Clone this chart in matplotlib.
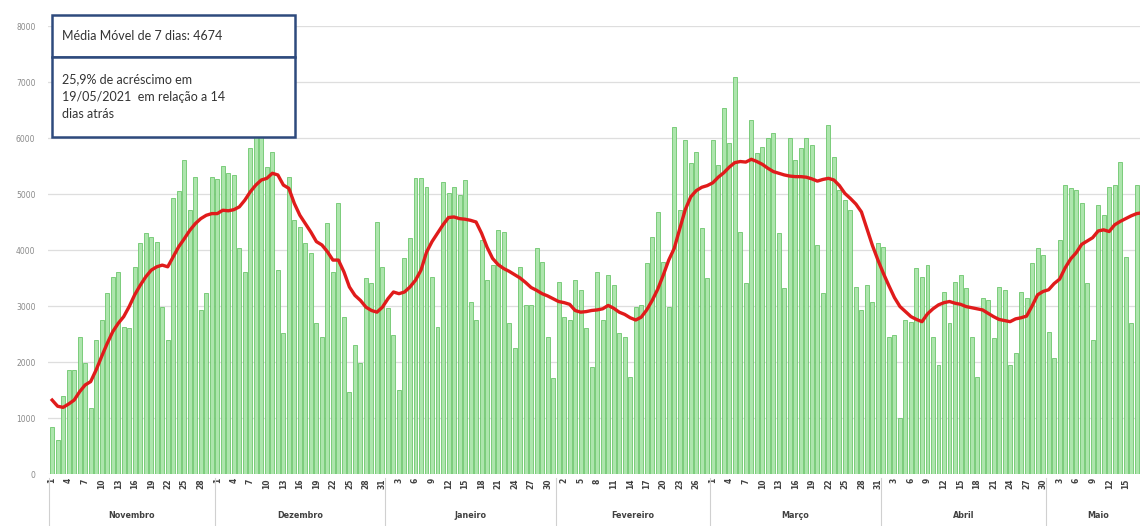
import pandas as pd
import matplotlib
matplotlib.use('Agg')
import matplotlib.pyplot as plt
from matplotlib.patches import Rectangle

# daily values, 01/11/2020 .. 19/05/2021
cases = [
    840, 600, 1400, 1860, 1860, 2450, 1980, 1180, 2390, 2750,
    3230, 3520, 3610, 2630, 2600, 3700, 4120, 4300, 4240, 4150,
    2990, 2390, 4920, 5050, 5600, 4710, 5300, 2930, 3230, 5300,
    5270, 5500, 5380, 5340, 4030, 3610, 5815, 6200, 6100, 5490,
    5756, 3640, 2510, 5310, 4536, 4417, 4119, 3940, 2690, 2452,
    4476, 3613, 4833, 2810, 1470, 2304, 1976, 3494, 3405, 4506,
    3702, 2958, 2482, 1500, 3851, 4208, 5280, 5280, 5131, 3524,
    2631, 5220, 5012, 5131, 4982, 5250, 3077, 2750, 4179, 3464,
    3732, 4357, 4327, 2690, 2244, 3702, 3018, 3018, 4030, 3792,
    2452, 1708, 3435, 2810, 2750, 3464, 3286, 2601, 1917, 3613,
    2750, 3554, 3375, 2512, 2450, 1738, 2988, 3018, 3762, 4238,
    4685, 3792, 2988, 6202, 4714, 5964, 5548, 5756, 4387, 3494,
    5964, 5518, 6530, 5905, 7095, 4327, 3405, 6321, 5726, 5845,
    5994, 6083, 4297, 3315, 5994, 5607, 5815, 5994, 5875, 4089,
    3226, 6232, 5667, 5071, 4893, 4714, 3345, 2929, 3375, 3077,
    4119, 4060, 2452, 2482, 994, 2750, 2720, 3672, 3524, 3732,
    2452, 1946, 3256, 2690, 3435, 3554, 3315, 2452, 1738, 3137,
    3107, 2422, 3345, 3286, 1946, 2155, 3256, 3137, 3762, 4030,
    3911, 2542, 2065, 4179, 5161, 5100, 5071, 4833, 3405, 2400,
    4804, 4625, 5131, 5161, 5577, 3881, 2700, 5161, 5300, 5400,
]

# 7-day moving average (red line)
media_movel = [
    1320, 1210, 1190, 1250, 1320, 1470, 1590, 1650, 1860, 2100,
    2330, 2540, 2690, 2810, 2990, 3200, 3370, 3520, 3640, 3700,
    3730, 3700, 3880, 4060, 4200, 4350, 4470, 4560, 4620, 4650,
    4650, 4710, 4700, 4720, 4770, 4890, 5040, 5160, 5250, 5280,
    5370, 5340, 5160, 5100, 4830, 4620, 4470, 4320, 4150, 4090,
    3970, 3820, 3820, 3610, 3340, 3190, 3100, 2980, 2920, 2890,
    2980, 3130, 3250, 3220, 3250, 3340, 3460, 3640, 3960, 4150,
    4300, 4450, 4580, 4590, 4560, 4550, 4530, 4500, 4300, 4050,
    3850, 3740, 3670, 3620, 3560, 3500, 3420, 3330, 3280, 3220,
    3180, 3130, 3080, 3060, 3030, 2920, 2890, 2900, 2920, 2930,
    2950, 3010, 2960, 2890, 2850, 2790, 2750, 2800, 2930, 3100,
    3300, 3550, 3820, 4030, 4380, 4720, 4950, 5060, 5120, 5150,
    5200, 5300, 5380, 5480, 5560, 5580, 5570, 5620, 5580, 5530,
    5460, 5400, 5370, 5340, 5320, 5310, 5310, 5300, 5270, 5230,
    5260, 5280, 5250, 5150, 5010, 4920, 4820, 4680, 4380, 4080,
    3820, 3580, 3360, 3150, 2990, 2900, 2810, 2760, 2720, 2860,
    2950, 3020, 3060, 3080, 3050, 3030, 2990, 2970, 2950, 2930,
    2870, 2810, 2760, 2740, 2720, 2770, 2790, 2820, 3000, 3200,
    3260, 3290, 3400, 3480, 3680, 3840, 3950, 4100, 4160, 4220,
    4340, 4360, 4330, 4450, 4510, 4560, 4610, 4650, 4665, 4674,
]

meses = ['Novembro', 'Dezembro', 'Janeiro', 'Fevereiro', 'Março', 'Abril', 'Maio']
texto_1 = 'Média Móvel de 7 dias: 4674'
texto_2 = '25,9% de acréscimo em\n19/05/2021  em relação a 14\ndias atrás'

datas = pd.date_range('2020-11-01', periods=len(cases), freq='D')
x = list(range(len(cases)))
x_max = 197.6   # the original picture is cut on the right

fig = plt.figure(figsize=(11.4, 5.26), dpi=100)
ax = fig.add_axes([48 / 1140, 52 / 526, 1 - 48 / 1140, 448 / 526])

ax.bar(x, cases, width=0.72, color='#ade5ad', edgecolor='#6cc66c', linewidth=0.6, zorder=2)
ax.plot(x, media_movel, color='#e01b1b', linewidth=2.4, zorder=3)

ax.set_ylim(0, 8000)
ax.set_xlim(-0.75, x_max)
ax.set_yticks(range(0, 8001, 1000))
ax.yaxis.grid(True, color='#dedede', linewidth=0.9, zorder=0)
ax.set_axisbelow(True)
for s in ax.spines.values():
    s.set_visible(False)
ax.tick_params(axis='y', length=0, labelsize=5.5, labelcolor='#8a8a8a', pad=9)

# day ticks every 3 days
ticks = [i for i in x[::3] if i < x_max - 1]
ax.set_xticks(ticks)
ax.set_xticklabels([str(datas[i].day) for i in ticks], rotation=90,
                   fontsize=5.5, fontweight='bold', color='#404040')
ax.tick_params(axis='x', length=0, pad=3)

# month names and separators
trans = ax.get_xaxis_transform()
bounds = [-0.5]
for k, m in enumerate(meses):
    idx = [i for i in x if datas[i].month == [11, 12, 1, 2, 3, 4, 5][k]]
    centro = (idx[0] + idx[-1]) / 2
    ax.text(centro, -0.092, m, transform=trans, ha='center', va='center',
            fontsize=5.8, fontweight='bold', color='#404040')
    bounds.append(idx[-1] + 0.5)
for b in bounds[:-1]:
    ax.plot([b, b], [-0.01, -0.12], transform=trans, color='#d0d0d0',
            linewidth=0.8, clip_on=False)

# info box
def px(x0, y0, w, h):
    return (x0 / 1140, 1 - (y0 + h) / 526, w / 1140, h / 526)

bx, by, bw, bh = px(52, 15, 243, 42)
fig.add_artist(Rectangle((bx, by), bw, bh, transform=fig.transFigure,
                         facecolor='white', edgecolor='#2e4a7d', linewidth=1.8, zorder=5))
bx, by, bw, bh = px(52, 57, 243, 80)
fig.add_artist(Rectangle((bx, by), bw, bh, transform=fig.transFigure,
                         facecolor='white', edgecolor='#2e4a7d', linewidth=1.8, zorder=5))
fig.text(62 / 1140, 1 - 36 / 526, texto_1, fontsize=9, family='Lato',
         color='#333333', va='center', zorder=6)
fig.text(62 / 1140, 1 - 97 / 526, texto_2, fontsize=9, family='Lato',
         color='#333333', va='center', linespacing=1.55, zorder=6)

fig.savefig('out.png', dpi=100)
